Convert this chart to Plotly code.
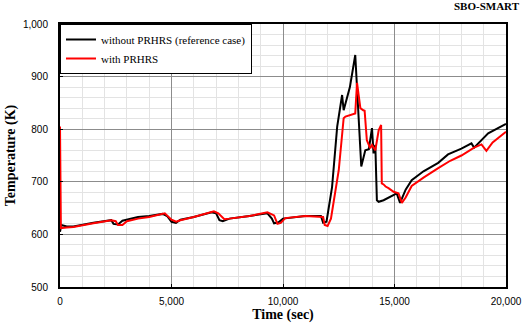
import plotly.graph_objects as go

# without PRHRS (reference case)
t_black = [0, 60, 300, 600, 1500, 2300, 2400, 2600, 2800, 3500, 4000, 4600, 4800, 5000, 5200, 5400,
           6000, 6800, 7000, 7150, 7300, 7600, 8500, 9300, 9500, 9600, 9800, 10000, 11000, 11700,
           11800, 11950, 12200, 12430, 12650, 12720, 13000, 13240, 13510, 13690, 13850, 13990, 14060,
           14140, 14210, 14290, 14510, 14960, 15100, 15250, 15500, 15770, 16300, 16960, 17400, 18000,
           18450, 18570, 18800, 19200, 20000]
T_black = [605, 618, 615, 615, 622, 627, 620, 619, 626, 633, 635, 639, 635, 624, 622, 628,
           633, 642, 640, 627, 625, 630, 635, 640, 630, 621, 623, 630, 635, 635,
           622, 624, 690, 805, 865, 836, 880, 941, 729, 760, 762, 802, 754,
           770, 665, 662, 665, 675, 678, 660, 685, 703, 720, 736, 752, 763,
           773, 765, 775, 792, 810]

# with PRHRS
t_red = [0, 40, 300, 600, 1500, 2300, 2500, 2600, 2800, 3000, 3500, 4000, 4700, 5000, 5210, 5400,
         6000, 6900, 7100, 7370, 7600, 8500, 9300, 9600, 9750, 9900, 10100, 11000, 11800, 11870,
         12000, 12150, 12500, 12720, 12800, 13240, 13320, 13470, 13600, 13660, 13760, 13910, 13990,
         14140, 14290, 14400, 14430, 14510, 14600, 14730, 14960, 15180, 15330, 15500, 15770, 16300,
         16960, 17500, 18000, 18570, 18900, 19120, 19400, 20000]
T_red = [805, 612, 613, 614, 621, 627, 625, 618, 618, 625, 630, 633, 640, 628, 624, 627,
         633, 644, 640, 629, 630, 635, 642, 636, 620, 622, 631, 635, 633, 618,
         616, 630, 722, 821, 824, 830, 888, 840, 836, 835, 779, 764, 770,
         760, 798, 808, 697, 695, 691, 688, 681, 678, 660, 670, 692, 708,
         726, 740, 750, 765, 771, 759, 775, 795]

serif = "Liberation Serif"
sans = "Liberation Sans"

fig = go.Figure()
fig.add_trace(go.Scatter(x=t_black, y=T_black, mode="lines", name="without PRHRS (reference case)",
                         line=dict(color="black", width=2)))
fig.add_trace(go.Scatter(x=t_red, y=T_red, mode="lines", name="with PRHRS",
                         line=dict(color="#ff0000", width=2)))

fig.update_layout(
    width=526, height=332,
    margin=dict(l=60, r=20, t=24, b=45, autoexpand=False),
    paper_bgcolor="white", plot_bgcolor="white",
    showlegend=True,
    legend=dict(x=0, y=1, xanchor="left", yanchor="top", bgcolor="white",
                bordercolor="black", borderwidth=1,
                font=dict(family=serif, size=11, color="black"),
                tracegroupgap=0, itemwidth=30),
    xaxis=dict(range=[0, 20000], dtick=5000, tickformat=",d", automargin=False,
               showgrid=True, gridcolor="#8c8c8c", gridwidth=1,
               minor=dict(dtick=1000, showgrid=True, gridcolor="#e3e3e3", gridwidth=1),
               showline=True, linecolor="black", linewidth=2, mirror=True,
               ticks="inside", ticklen=3, tickcolor="black", ticklabelstandoff=4,
               tickfont=dict(family=sans, size=10, color="black"),
               title=dict(text="<b>Time (sec)</b>", font=dict(family=serif, size=14, color="black"), standoff=2),
               zeroline=False),
    yaxis=dict(range=[500, 1000], dtick=100, tickformat=",d", automargin=False,
               showgrid=True, gridcolor="#8c8c8c", gridwidth=1,
               minor=dict(dtick=20, showgrid=True, gridcolor="#e3e3e3", gridwidth=1),
               showline=True, linecolor="black", linewidth=2, mirror=True,
               ticks="inside", ticklen=3, tickcolor="black", ticklabelstandoff=8,
               tickfont=dict(family=sans, size=10, color="black"),
               title=dict(text="<b>Temperature (K)</b>", font=dict(family=serif, size=14, color="black"), standoff=4),
               zeroline=False),
)
fig.add_annotation(text="<b>SBO-SMART</b>", xref="paper", yref="paper", x=1.036, y=1.07,
                   xanchor="right", yanchor="middle", showarrow=False,
                   font=dict(family=serif, size=11, color="black"))

fig.write_html("out.html", config={"displayModeBar": False},
               post_script="document.body.style.margin='0';document.body.style.overflow='hidden';")
